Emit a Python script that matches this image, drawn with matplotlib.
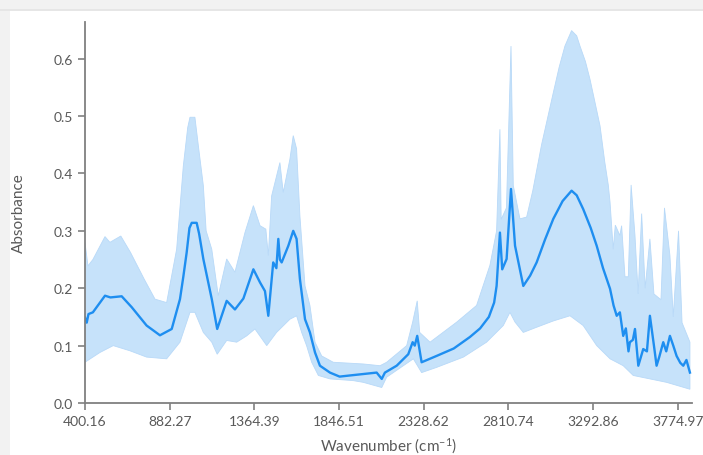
import numpy as np
import matplotlib.pyplot as plt
from matplotlib.patches import Rectangle

# mean spectrum
mean_wn = [400, 410, 420, 445, 514, 545, 609, 666, 751, 827, 894, 941, 960, 979, 995, 1008,
           1036, 1050, 1074, 1122, 1153, 1207, 1254, 1302, 1359, 1397, 1425, 1444, 1472,
           1490, 1501, 1510, 1520, 1558, 1586, 1605, 1624, 1653, 1681, 1710, 1738, 1795,
           1850, 1909, 1985, 2061, 2090, 2108, 2175, 2241, 2266, 2278, 2292, 2317, 2402,
           2500, 2592, 2650, 2700, 2730, 2744, 2763, 2776, 2801, 2826, 2849, 2896, 2935,
           2972, 3020, 3067, 3120, 3171, 3200, 3237, 3280, 3314, 3350, 3390, 3410, 3428,
           3446, 3465, 3480, 3495, 3503, 3520, 3532, 3551, 3579, 3600, 3617, 3640, 3655,
           3670, 3693, 3710, 3731, 3750, 3769, 3790, 3807, 3825, 3845]
mean_abs = [0.149, 0.140, 0.155, 0.158, 0.187, 0.184, 0.186, 0.167, 0.135, 0.118, 0.129,
            0.181, 0.220, 0.262, 0.305, 0.314, 0.314, 0.295, 0.251, 0.181, 0.129, 0.178,
            0.163, 0.182, 0.233, 0.210, 0.195, 0.152, 0.245, 0.235, 0.286, 0.250, 0.245,
            0.274, 0.300, 0.286, 0.216, 0.146, 0.123, 0.088, 0.065, 0.053, 0.046, 0.048,
            0.0505, 0.053, 0.042, 0.053, 0.065, 0.085, 0.106, 0.100, 0.117, 0.071, 0.082,
            0.095, 0.115, 0.130, 0.150, 0.175, 0.204, 0.297, 0.233, 0.251, 0.373, 0.274,
            0.204, 0.222, 0.245, 0.285, 0.321, 0.352, 0.370, 0.362, 0.338, 0.305, 0.274,
            0.235, 0.199, 0.170, 0.152, 0.158, 0.117, 0.130, 0.090, 0.106, 0.110, 0.129,
            0.065, 0.094, 0.090, 0.152, 0.100, 0.065, 0.080, 0.106, 0.090, 0.117, 0.100,
            0.082, 0.070, 0.065, 0.075, 0.053]

# upper edge of the spread
upper_wn = [400, 417, 445, 514, 542, 604, 660, 737, 799, 865, 922, 960, 985, 998, 1026,
            1045, 1074, 1090, 1122, 1159, 1207, 1254, 1311, 1359, 1397, 1430, 1444, 1463,
            1510, 1529, 1567, 1586, 1605, 1624, 1653, 1681, 1710, 1748, 1814, 1928, 1985,
            2080, 2118, 2232, 2266, 2292, 2306, 2365, 2517, 2630, 2706, 2744, 2763, 2770,
            2800, 2826, 2839, 2877, 2915, 2950, 3000, 3067, 3100, 3133, 3171, 3200, 3219,
            3250, 3276, 3300, 3333, 3360, 3380, 3390, 3408, 3420, 3446, 3456, 3475, 3494,
            3510, 3532, 3550, 3570, 3590, 3617, 3640, 3680, 3700, 3731, 3750, 3780, 3800,
            3845]
upper_abs = [0.280, 0.239, 0.250, 0.290, 0.280, 0.291, 0.262, 0.216, 0.181, 0.175, 0.268,
             0.413, 0.480, 0.498, 0.498, 0.450, 0.379, 0.300, 0.268, 0.187, 0.251, 0.228,
             0.297, 0.344, 0.309, 0.303, 0.257, 0.361, 0.419, 0.367, 0.425, 0.466, 0.443,
             0.326, 0.204, 0.170, 0.106, 0.082, 0.071, 0.069, 0.068, 0.065, 0.071, 0.100,
             0.141, 0.178, 0.123, 0.106, 0.141, 0.170, 0.240, 0.300, 0.477, 0.320, 0.340,
             0.622, 0.379, 0.321, 0.324, 0.370, 0.450, 0.541, 0.585, 0.622, 0.649, 0.640,
             0.622, 0.595, 0.564, 0.530, 0.483, 0.420, 0.380, 0.350, 0.268, 0.310, 0.292,
             0.309, 0.220, 0.220, 0.380, 0.292, 0.190, 0.330, 0.200, 0.286, 0.190, 0.180,
             0.340, 0.257, 0.150, 0.300, 0.140, 0.106]

# lower edge of the spread
lower_wn = [400, 485, 561, 656, 751, 865, 941, 998, 1026, 1074, 1122, 1153, 1207, 1264,
            1321, 1368, 1435, 1491, 1567, 1605, 1634, 1662, 1691, 1729, 1795, 1928, 1985,
            2090, 2118, 2270, 2317, 2402, 2555, 2687, 2782, 2820, 2849, 2896, 2972, 3067,
            3162, 3237, 3314, 3390, 3465, 3522, 3617, 3712, 3845]
lower_abs = [0.071, 0.088, 0.100, 0.091, 0.080, 0.077, 0.106, 0.158, 0.158, 0.123, 0.106,
             0.085, 0.109, 0.106, 0.117, 0.129, 0.100, 0.123, 0.146, 0.152, 0.123, 0.100,
             0.071, 0.048, 0.042, 0.039, 0.036, 0.027, 0.045, 0.077, 0.053, 0.062, 0.080,
             0.106, 0.135, 0.158, 0.141, 0.123, 0.132, 0.143, 0.152, 0.135, 0.100, 0.077,
             0.065, 0.048, 0.042, 0.036, 0.024]

xticks = [400.16, 882.27, 1364.39, 1846.51, 2328.62, 2810.74, 3292.86, 3774.97]
xtick_labels = ['400.16', '882.27', '1364.39', '1846.51', '2328.62', '2810.74', '3292.86', '3774.97']
yticks = [0.0, 0.1, 0.2, 0.3, 0.4, 0.5, 0.6]

plt.rcParams['font.family'] = ['Lato', 'DejaVu Sans']
plt.rcParams['mathtext.fontset'] = 'custom'
plt.rcParams['mathtext.rm'] = 'Lato'
plt.rcParams['mathtext.it'] = 'Lato:italic'

W, H = 703, 456
fig = plt.figure(figsize=(W / 100, H / 100), dpi=100, facecolor='#f2f2f2')
# white panel behind the plot
fig.patches.append(Rectangle((10 / W, 0), 1, (H - 12) / H, transform=fig.transFigure,
                             facecolor='white', edgecolor='none', zorder=-5))
fig.patches.append(Rectangle((0, (H - 12) / H), 1, 2 / H, transform=fig.transFigure,
                             facecolor='#e6e6e6', edgecolor='none', zorder=-5))

ax = fig.add_axes([85 / W, (H - 404) / H, (691.7 - 85) / W, (404 - 23) / H])
ax.set_facecolor('none')

# spread band: upper edge forward, lower edge back
band_x = list(upper_wn) + list(lower_wn[::-1])
band_y = list(upper_abs) + list(lower_abs[::-1])
ax.fill(band_x, band_y, color='#c6e2fa', lw=0.6, ec='#b8d9f8')
ax.plot(mean_wn, mean_abs, color='#1e8ef0', lw=1.7)

ax.set_xlim(400.16, 3855)
ax.set_ylim(0, 0.664)
ax.set_xticks(xticks)
ax.set_xticklabels(xtick_labels)
ax.set_yticks(yticks)
ax.set_yticklabels(['%.1f' % v for v in yticks])

for s in ['top', 'right']:
    ax.spines[s].set_visible(False)
for s in ['left', 'bottom']:
    ax.spines[s].set_color('#808080')
    ax.spines[s].set_linewidth(1.3)
ax.tick_params(axis='both', colors='#808080', length=5, width=1.2,
               labelcolor='#595959', labelsize=10)

ax.set_xlabel('Wavenumber (cm$^{-1}$)', fontsize=11, color='#595959', labelpad=6)
ax.set_ylabel('Absorbance', fontsize=11, color='#595959', labelpad=20)

fig.savefig('out.png', dpi=100, facecolor=fig.get_facecolor())
